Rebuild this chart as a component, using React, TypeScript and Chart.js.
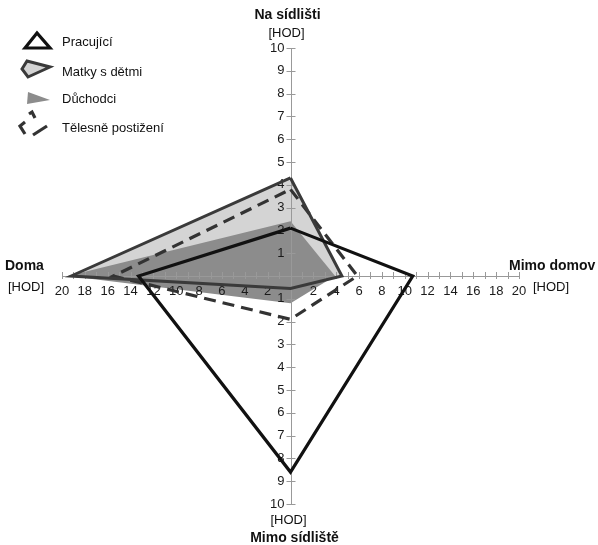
import React, { useEffect, useRef } from 'react';
import { Chart, registerables } from 'chart.js';

Chart.register(...registerables);

// Axis names (up, right, down, left) and unit
const axisTop = 'Na sídlišti';
const axisRight = 'Mimo domov';
const axisBottom = 'Mimo sídliště';
const axisLeft = 'Doma';
const unitLabel = '[HOD]';

// Scale ranges [HOD]
const vMax = 10; // Na sídlišti / Mimo sídliště
const hMax = 20; // Doma / Mimo domov

// Series names
const seriesNames = ['Pracující', 'Matky s dětmi', 'Důchodci', 'Tělesně postižení'];

// Values per series: [Na sídlišti, Mimo domov, Mimo sídliště, Doma]
const pracujici = [2.1, 10.7, 8.6, 13.3];
const matky = [4.3, 4.5, 0.55, 19.2];
const duchodci = [2.4, 3.9, 1.2, 19.5];
const telesne = [3.8, 5.85, 1.9, 15.5];

const FONT = '"Liberation Sans", Arial, sans-serif';

function toPolygon(v: number[]) {
  return [
    { x: 0, y: v[0] },
    { x: v[1], y: 0 },
    { x: 0, y: -v[2] },
    { x: -v[3], y: 0 },
    { x: 0, y: v[0] },
  ];
}

function drawLegendIcon(ctx: CanvasRenderingContext2D, i: number, cy: number) {
  ctx.save();
  ctx.lineJoin = 'miter';
  if (i === 0) {
    ctx.beginPath();
    ctx.moveTo(25, cy + 6);
    ctx.lineTo(37, cy - 9);
    ctx.lineTo(50, cy + 6);
    ctx.closePath();
    ctx.lineWidth = 3.2;
    ctx.strokeStyle = '#111';
    ctx.stroke();
  } else if (i === 1) {
    ctx.beginPath();
    ctx.moveTo(22, cy - 3);
    ctx.lineTo(27, cy - 11);
    ctx.lineTo(50, cy - 5);
    ctx.lineTo(28, cy + 5);
    ctx.closePath();
    ctx.fillStyle = '#d4d4d4';
    ctx.fill();
    ctx.lineWidth = 3;
    ctx.strokeStyle = '#3a3a3a';
    ctx.stroke();
  } else if (i === 2) {
    ctx.beginPath();
    ctx.moveTo(28, cy - 7);
    ctx.lineTo(50, cy + 1);
    ctx.lineTo(27, cy + 5);
    ctx.closePath();
    ctx.fillStyle = '#8c8c8c';
    ctx.fill();
  } else {
    ctx.lineWidth = 3.2;
    ctx.strokeStyle = '#333';
    ctx.lineCap = 'butt';
    ctx.lineJoin = 'miter';
    const segs = [
      [[29, cy - 14], [32, cy - 16], [35, cy - 10]],
      [[25, cy - 6], [20, cy - 2], [25, cy + 6]],
      [[33, cy + 7], [47, cy - 2]],
    ];
    segs.forEach((s) => {
      ctx.beginPath();
      s.forEach((p, k) => (k === 0 ? ctx.moveTo(p[0], p[1]) : ctx.lineTo(p[0], p[1])));
      ctx.stroke();
    });
  }
  ctx.restore();
}

const overlayPlugin = {
  id: 'overlay',
  // runs after the filler has painted the areas, before the lines
  beforeDatasetsDraw(chart: any) {
    const ctx: CanvasRenderingContext2D = chart.ctx;
    const xs = chart.scales.x;
    const ys = chart.scales.y;
    const cx = xs.getPixelForValue(0);
    const cy = ys.getPixelForValue(0);
    ctx.save();
    ctx.strokeStyle = '#999';
    ctx.lineWidth = 1;
    // axis lines
    ctx.beginPath();
    ctx.moveTo(xs.left, Math.round(cy) + 0.5);
    ctx.lineTo(xs.right, Math.round(cy) + 0.5);
    ctx.moveTo(Math.round(cx) + 0.5, ys.top);
    ctx.lineTo(Math.round(cx) + 0.5, ys.bottom);
    ctx.stroke();
    // tick marks
    xs.ticks.forEach((t: any) => {
      if (t.value === 0) return;
      const px = Math.round(xs.getPixelForValue(t.value)) + 0.5;
      ctx.beginPath();
      ctx.moveTo(px, cy - 4);
      ctx.lineTo(px, cy + 3);
      ctx.stroke();
    });
    ys.ticks.forEach((t: any) => {
      if (t.value === 0) return;
      const py = Math.round(ys.getPixelForValue(t.value)) + 0.5;
      ctx.beginPath();
      ctx.moveTo(cx - 4, py);
      ctx.lineTo(cx + 5, py);
      ctx.stroke();
    });
    // tick labels
    ctx.fillStyle = '#1a1a1a';
    ctx.font = `13px ${FONT}`;
    ctx.textBaseline = 'middle';
    ctx.textAlign = 'center';
    xs.ticks.forEach((t: any) => {
      if (!t.label) return;
      ctx.fillText(String(t.label), xs.getPixelForValue(t.value), cy + 15);
    });
    ctx.textAlign = 'right';
    ys.ticks.forEach((t: any) => {
      if (!t.label) return;
      ctx.fillText(String(t.label), cx - 6, ys.getPixelForValue(t.value));
    });
    ctx.restore();
  },
  afterDraw(chart: any) {
    const ctx: CanvasRenderingContext2D = chart.ctx;
    const xs = chart.scales.x;
    const ys = chart.scales.y;
    const cx = xs.getPixelForValue(0);
    const cy = ys.getPixelForValue(0);
    const top = ys.getPixelForValue(vMax);
    const bottom = ys.getPixelForValue(-vMax);
    const right = xs.getPixelForValue(hMax);
    ctx.save();
    ctx.fillStyle = '#111';
    ctx.textBaseline = 'middle';
    ctx.textAlign = 'center';
    ctx.font = `bold 14px ${FONT}`;
    ctx.fillText(axisTop, cx - 3, top - 33);
    ctx.fillText(axisBottom, cx + 4, bottom + 34);
    ctx.textAlign = 'left';
    ctx.fillText(axisLeft, 5, cy - 10);
    ctx.fillText(axisRight, 509, cy - 10);
    ctx.font = `13px ${FONT}`;
    ctx.textAlign = 'center';
    ctx.fillText(unitLabel, cx - 4, top - 15);
    ctx.fillText(unitLabel, cx - 2, bottom + 16);
    ctx.textAlign = 'left';
    ctx.fillText(unitLabel, 8, cy + 11);
    ctx.fillText(unitLabel, right + 14, cy + 11);

    // legend
    const rows = [42, 72, 99, 128];
    const names = chart.data.datasets.map((d: any) => d.label);
    ctx.font = `13px ${FONT}`;
    ctx.fillStyle = '#111';
    names.forEach((n: string, i: number) => {
      drawLegendIcon(ctx, i, rows[i]);
      ctx.fillText(n, 62, rows[i]);
    });
    ctx.restore();
  },
};

export default function App() {
  const ref = useRef<HTMLCanvasElement>(null);
  useEffect(() => {
    document.body.style.margin = '0';
    const canvas = ref.current!;
    const chart = new Chart(canvas, {
      type: 'scatter',
      data: {
        datasets: [
          {
            label: seriesNames[0],
            data: toPolygon(pracujici),
            showLine: true,
            borderColor: '#111',
            borderWidth: 3.2,
            backgroundColor: 'transparent',
            fill: false,
            pointRadius: 0,
            borderJoinStyle: 'miter',
            order: 0,
          },
          {
            label: seriesNames[1],
            data: toPolygon(matky),
            showLine: true,
            borderColor: '#3a3a3a',
            borderWidth: 3,
            backgroundColor: '#d4d4d4',
            fill: 'shape',
            pointRadius: 0,
            borderJoinStyle: 'miter',
            order: 2,
          },
          {
            label: seriesNames[2],
            data: toPolygon(duchodci),
            showLine: true,
            borderColor: 'rgba(0,0,0,0)',
            borderWidth: 0,
            backgroundColor: '#8c8c8c',
            fill: 'shape',
            pointRadius: 0,
            order: 1,
          },
          {
            label: seriesNames[3],
            data: toPolygon(telesne),
            showLine: true,
            borderColor: '#333',
            borderWidth: 3.2,
            borderDash: [12, 7],
            backgroundColor: 'transparent',
            fill: false,
            pointRadius: 0,
            borderJoinStyle: 'miter',
            order: 3,
          },
        ] as any,
      },
      options: {
        responsive: false,
        animation: false,
        devicePixelRatio: 1,
        layout: { padding: { left: 62, right: 79, top: 48, bottom: 41 } },
        plugins: {
          legend: { display: false },
          tooltip: { enabled: false },
          filler: { drawTime: 'beforeDatasetsDraw' },
        },
        scales: {
          x: {
            type: 'linear',
            position: { y: 0 } as any,
            min: -hMax,
            max: hMax,
            afterFit: (s: any) => { s.height = 0; },
            ticks: {
              display: false,
              stepSize: 1,
              autoSkip: false,
              maxRotation: 0,
              callback: (v: any) => (v !== 0 && v % 2 === 0 ? String(Math.abs(v)) : ''),
            },
            grid: { display: false },
            border: { display: false },
          },
          y: {
            type: 'linear',
            position: { x: 0 } as any,
            min: -vMax,
            max: vMax,
            afterFit: (s: any) => { s.width = 0; },
            ticks: {
              display: false,
              stepSize: 1,
              autoSkip: false,
              callback: (v: any) => (v !== 0 ? String(Math.abs(v)) : ''),
            },
            grid: { display: false },
            border: { display: false },
          },
        },
      },
      plugins: [overlayPlugin],
    });
    return () => chart.destroy();
  }, []);
  return (
    <div style={{ width: 598, height: 545, background: '#fff' }}>
      <canvas ref={ref} width={598} height={545} />
    </div>
  );
}
